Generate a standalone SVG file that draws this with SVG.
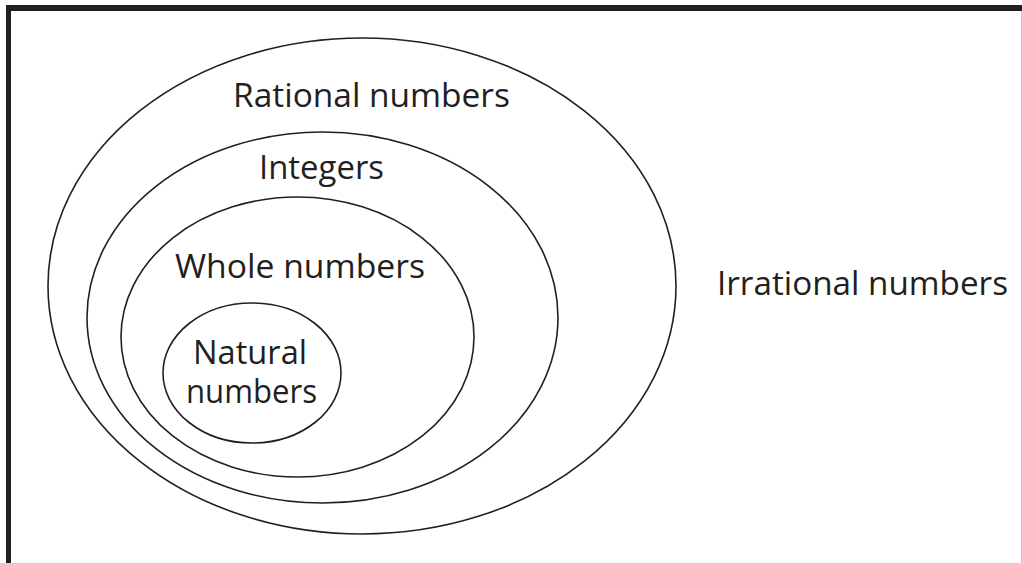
<svg xmlns="http://www.w3.org/2000/svg" width="1022" height="563" viewBox="0 0 1022 563">
<style>
.set{fill:none;stroke:#231f20;stroke-width:1.6}
.lbl{font-family:"Open Sans","Noto Sans","Liberation Sans",sans-serif;font-size:32px;fill:#231f20}
</style>
<rect width="1022" height="563" fill="#ffffff"/>
<g id="frame">
<line x1="6" y1="8" x2="1022" y2="8" stroke="#231f20" stroke-width="6"/>
<line x1="8.5" y1="5" x2="8.5" y2="563" stroke="#231f20" stroke-width="5"/>
<line x1="1021.5" y1="11" x2="1021.5" y2="563" stroke="#cccccc" stroke-width="1"/>
</g>
<g id="rational">
<ellipse class="set" cx="362" cy="286" rx="314" ry="248"/>
<text class="lbl" x="233" y="107" textLength="277" lengthAdjust="spacingAndGlyphs">Rational numbers</text>
</g>
<g id="integers">
<ellipse class="set" cx="322.5" cy="317.5" rx="235.5" ry="185.5"/>
<text class="lbl" x="259" y="179" textLength="125" lengthAdjust="spacingAndGlyphs">Integers</text>
</g>
<g id="whole">
<ellipse class="set" cx="297.5" cy="337" rx="176.5" ry="140"/>
<text class="lbl" x="175" y="278" textLength="250" lengthAdjust="spacingAndGlyphs">Whole numbers</text>
</g>
<g id="natural">
<ellipse class="set" cx="252" cy="373" rx="89" ry="70"/>
<text class="lbl" x="193" y="364" textLength="114" lengthAdjust="spacingAndGlyphs">Natural</text>
<text class="lbl" x="186" y="403" textLength="131" lengthAdjust="spacingAndGlyphs">numbers</text>
</g>
<g id="irrational">
<text class="lbl" x="717" y="295" textLength="291" lengthAdjust="spacingAndGlyphs">Irrational numbers</text>
</g>
<g id="connectors"></g>
</svg>
